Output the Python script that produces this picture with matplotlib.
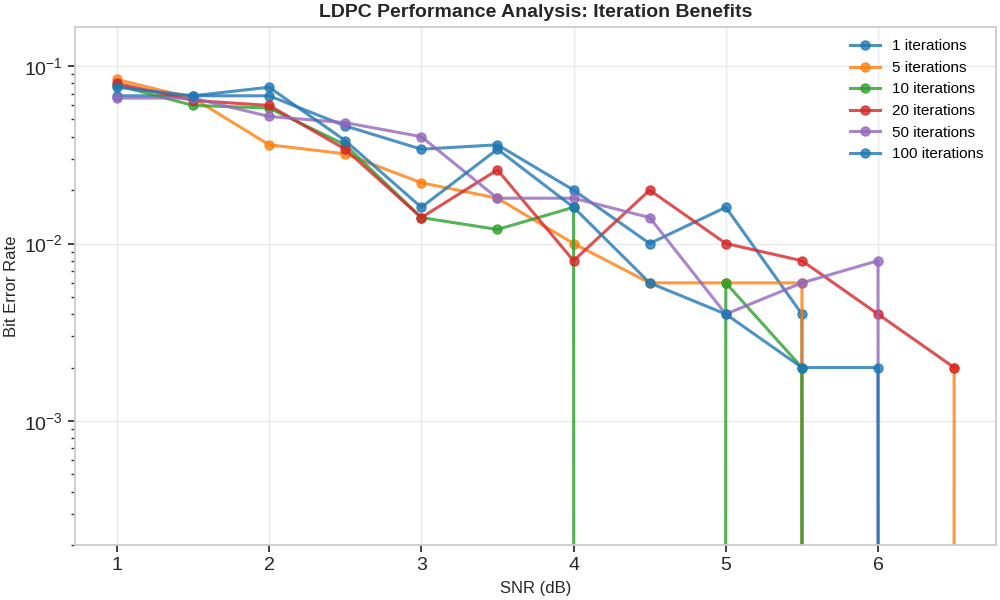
import matplotlib
matplotlib.use('Agg')
import numpy as np
import matplotlib.pyplot as plt

plt.rcParams['font.family'] = ['Liberation Sans', 'DejaVu Sans']
plt.rcParams['mathtext.fontset'] = 'custom'
plt.rcParams['mathtext.rm'] = 'Liberation Sans'
plt.rcParams['mathtext.it'] = 'Liberation Sans:italic'
plt.rcParams['mathtext.bf'] = 'Liberation Sans:bold'

# ─── data (BER per SNR, 0 = no errors) ───────────────────────────────────────
snr = [1.0, 1.5, 2.0, 2.5, 3.0, 3.5, 4.0, 4.5, 5.0, 5.5, 6.0, 6.5]
labels = ['1 iterations', '5 iterations', '10 iterations',
          '20 iterations', '50 iterations', '100 iterations']
ber_1   = [0.068, 0.068, 0.068, 0.046, 0.034, 0.036, 0.020, 0.010, 0.016, 0.004, 0.0, 0.0]
ber_5   = [0.084, 0.066, 0.036, 0.032, 0.022, 0.018, 0.010, 0.006, 0.006, 0.006, 0.0, 0.002]
ber_10  = [0.078, 0.060, 0.058, 0.036, 0.014, 0.012, 0.016, 0.0, 0.006, 0.002, 0.0, 0.0]
ber_20  = [0.080, 0.064, 0.060, 0.034, 0.014, 0.026, 0.008, 0.020, 0.010, 0.008, 0.004, 0.002]
ber_50  = [0.066, 0.066, 0.052, 0.048, 0.040, 0.018, 0.018, 0.014, 0.004, 0.006, 0.008, 0.0]
ber_100 = [0.076, 0.068, 0.076, 0.038, 0.016, 0.034, 0.016, 0.006, 0.004, 0.002, 0.002, 0.0]
series = [ber_1, ber_5, ber_10, ber_20, ber_50, ber_100]
colors = ['#1f77b4', '#ff7f0e', '#2ca02c', '#d62728', '#9467bd', '#1f77b4']

# ─── plot ────────────────────────────────────────────────────────────────────
fig = plt.figure(figsize=(10, 6), dpi=100)
ax = fig.add_axes([0.075, 0.0917, 0.921, 0.8633])

for ys, lab, c in zip(series, labels, colors):
    ax.plot(snr, ys, '-o', color=c, label=lab, linewidth=2.2,
            markersize=6.5, alpha=0.8)

ax.set_yscale('log')
ax.set_ylim(2e-4, 0.166)
ax.set_xlim(0.725, 6.775)

ax.grid(True, color='#e8e8e8', linewidth=1.0)
ax.set_axisbelow(True)
for sp in ax.spines.values():
    sp.set_color('#cccccc')
    sp.set_linewidth(1.3)
ax.tick_params(axis='both', which='major', labelsize=14, color='#333333',
               length=5, width=1.3, labelcolor='#262626')
ax.tick_params(axis='y', which='minor', color='#333333', length=3, width=1.0)

ax.set_xlabel('SNR (dB)', fontsize=12, color='#262626', labelpad=5)
ax.set_ylabel('Bit Error Rate', fontsize=12, color='#262626', labelpad=4)
ax.set_title('LDPC Performance Analysis: Iteration Benefits',
             fontsize=14, fontweight='bold', color='#262626', pad=7)

ax.legend(loc='upper right', frameon=False, fontsize=11, labelspacing=0.5,
          borderaxespad=0.4)

fig.savefig('out.png', dpi=100)
